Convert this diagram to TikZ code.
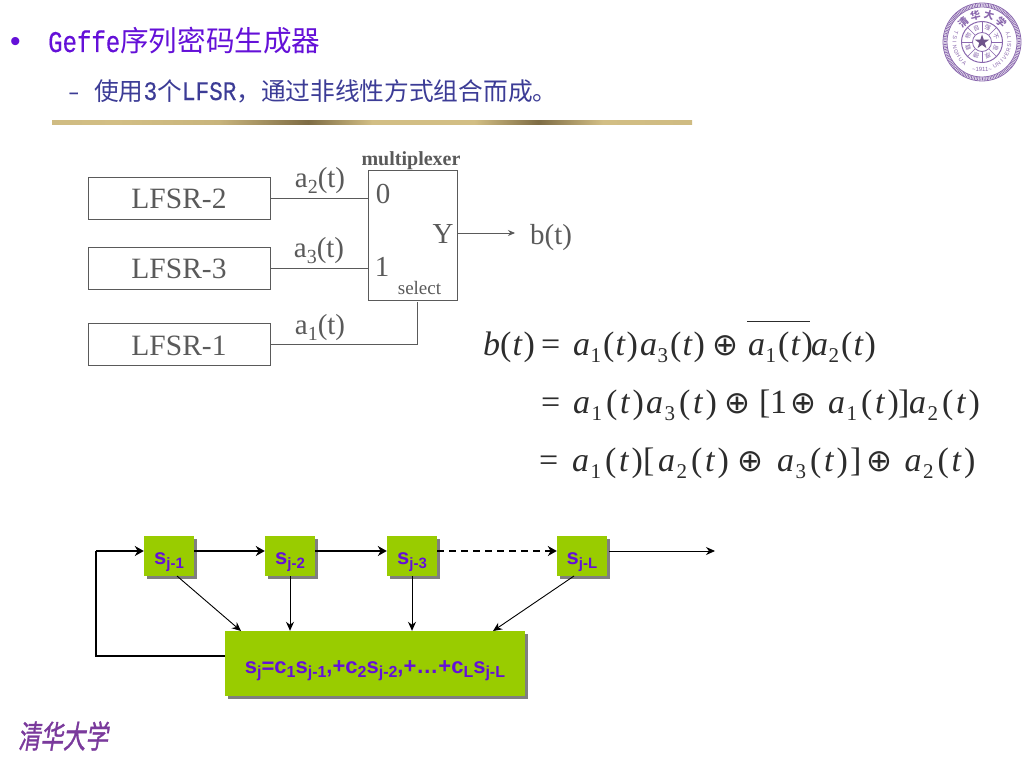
\documentclass[tikz,border=0pt]{standalone}
\usepackage{fontspec}
\usepackage{graphicx}
\setmainfont{Liberation Serif}
\setsansfont{Liberation Sans}
\newfontfamily\latnh[FakeStretch=0.8,FakeBold=0.4]{Liberation Mono}
\newfontfamily\latns[FakeStretch=0.85,FakeBold=0.4]{Liberation Mono}
\newfontfamily\cjk{Noto Sans CJK SC}
\newfontfamily\cjkslant[FakeSlant=0.22,FakeBold=1.2]{Noto Sans CJK SC}
\newfontfamily\djv{DejaVu Sans}
\usetikzlibrary{arrows.meta,shadows}
\definecolor{headc}{HTML}{6410D8}
\definecolor{subc}{HTML}{3C3C96}
\definecolor{gfill}{HTML}{99CC00}
\definecolor{gshadow}{HTML}{7F7F7F}
\definecolor{linec}{HTML}{5A5A5A}
\definecolor{sealc}{HTML}{8A68AE}
\definecolor{logoc}{HTML}{7A3A9C}
\definecolor{eqc}{HTML}{2C2C2C}
\definecolor{barA}{HTML}{9A9678}
\definecolor{barB}{HTML}{C8B47C}
\definecolor{barC}{HTML}{D2BE84}
\definecolor{barD}{HTML}{7E6C44}
\pgfdeclarehorizontalshading{goldbar}{100bp}{
 color(0bp)=(barA);
 color(5bp)=(barA);
 color(12bp)=(barB);
 color(30bp)=(barC);
 color(38bp)=(barB);
 color(45bp)=(barD);
 color(50bp)=(barC);
 color(58bp)=(barC);
 color(63bp)=(barD);
 color(68bp)=(barC);
 color(90bp)=(barB);
 color(100bp)=(barA)}
\newcommand{\fs}[1]{\fontsize{#1}{#1}\selectfont}
\newcommand{\lowtxt}[2]{\raisebox{#1}{#2}}
\newcommand{\dropped}[2]{\raisebox{#1}[0pt][0pt]{#2}}
\newcommand{\ssub}[1]{\lowtxt{-4.5pt}{\fs{15}#1}}
\newcommand{\bsub}[1]{\lowtxt{-4pt}{\fs{16}#1}}
\newcommand{\ait}[1]{\textit{a}\kern.5pt\lowtxt{-7pt}{\fs{21}#1}\kern2pt(\kern1pt\textit{t}\kern1pt)}
\newcommand{\aiw}[1]{\textit{a}\kern1.5pt\lowtxt{-7pt}{\fs{21}#1}\kern4pt(\kern2.5pt\textit{t}\kern2.5pt)}
\newcommand{\opl}{{\djv\fs{31}⊕}}
\tikzset{
  lfsrbox/.style={draw=linec,line width=.9pt,inner sep=0pt,font=\fs{29.5},text=linec},
  wire/.style={draw=linec,line width=.9pt},
  lbl/.style={inner sep=0pt,text=linec,font=\fs{29}},
  eqp/.style={inner sep=0pt,anchor=base west,text=eqc,font=\fs{34}},
  gbox/.style={fill=gfill,inner sep=0pt,text=headc,font=\sffamily\bfseries\fs{22},
     general shadow={fill=gshadow,shadow xshift=3pt,shadow yshift=-3pt}},
  flow/.style={draw=black,line width=1.7pt,-{Stealth[length=9pt,width=10pt]}},
  thin flow/.style={draw=black,line width=.9pt,-{Stealth[length=9pt,width=8pt]}},
  sealline/.style={draw=sealc,line width=.8pt},
  sealtxt/.style={inner sep=0pt,text=sealc}
}
\begin{document}
\begin{tikzpicture}[x=1pt,y=-1pt]
\useasboundingbox (0,0) rectangle (1024,768);
\fill[white] (0,0) rectangle (1024,768);

% headings
\node[anchor=base west,inner sep=0pt,text=headc,font=\sffamily\fs{30}] (bullet) at (10,52) {•};
\node[anchor=base west,inner sep=0pt,text=headc] (head) at (48,52) {{\latnh\fs{30}Geffe}{\cjk\fs{28.6}序列密码生成器}};
\node[anchor=base west,inner sep=0pt,text=subc,font=\latns\fs{22}] (dash) at (68,99) {–};
\node[anchor=base west,inner sep=0pt,text=subc] (subhead) at (94,100) {{\cjk\fs{24.7}使用}{\latns\fs{26.7}3}{\cjk\fs{24.7}个}{\latns\fs{26.7}LFSR}{\cjk\fs{24.7}，通过非线性方式组合而成。}};
\shade[shading=goldbar] (52,120) rectangle (692,124);

% LFSR boxes
\node[lfsrbox,minimum width=182pt,minimum height=42pt] (l2) at (179,198) {\dropped{-10pt}{LFSR-2}};
\node[lfsrbox,minimum width=182pt,minimum height=42pt] (l3) at (179,268) {\dropped{-10pt}{LFSR-3}};
\node[lfsrbox,minimum width=182pt,minimum height=42pt] (l1) at (179,344.5) {\dropped{-10.5pt}{LFSR-1}};
\node[draw=linec,line width=.9pt,inner sep=0pt,minimum width=89pt,minimum height=130pt] (mux) at (412.5,235) {};
\node[lbl,font=\bfseries\fs{20}] (muxname) at (411,161) {multiplexer};
\node[lbl] (in0) at (383,194) {0};
\node[lbl] (in1) at (382,267) {1};
\node[lbl] (outy) at (443,234) {Y};
\node[lbl,font=\fs{19}] (sel) at (419.5,288) {select};
\node[lbl,anchor=base west] (bt) at (530,244) {b(t)};
\node[lbl,anchor=base] (a2) at (320,187) {a\lowtxt{-6pt}{\fs{20}2}(t)};
\node[lbl,anchor=base] (a3) at (319,257) {a\lowtxt{-6pt}{\fs{20}3}(t)};
\node[lbl,anchor=base] (a1) at (320,334) {a\lowtxt{-6pt}{\fs{20}1}(t)};
\coordinate (yout) at (458,233);
\coordinate (yend) at (515,233);
\coordinate (selend) at (417,302);
\draw[wire] (l2.east) -- (l2.east -| mux.west);
\draw[wire] (l3.east) -- (l3.east -| mux.west);
\draw[wire] (l1.east) -- (l1.east -| selend) -- (selend);
\draw[wire,-{Stealth[length=7pt,width=6pt]}] (yout) -- (yend);

% equation line 1
\node[eqp] (e1b) at (483,355) {\textit{b}(\kern1pt\textit{t}\kern1pt)};
\node[eqp] (e1e) at (541,355) {=};
\node[eqp] (e1a) at (573,355) {\ait{1}};
\node[eqp] (e1c) at (640,355) {\ait{3}};
\node[eqp] (e1o) at (712,355) {\opl};
\node[eqp] (e1d) at (748,355) {\ait{1}};
\node[eqp] (e1f) at (811,355) {\ait{2}};
\coordinate (barl) at (747,321);
\coordinate (barr) at (810,321);
\draw[draw=eqc,line width=.9pt] (barl) -- (barr);
% equation line 2
\node[eqp] (e2e) at (541,413) {=};
\node[eqp] (e2a) at (573,413) {\aiw{1}};
\node[eqp] (e2c) at (646,413) {\aiw{3}};
\node[eqp] (e2o) at (724,413) {\opl};
\node[eqp] (e2l) at (759,413) {[};
\node[eqp] (e2n) at (770,413) {1};
\node[eqp] (e2p) at (790,413) {\opl};
\node[eqp] (e2d) at (828,413) {\aiw{1}};
\node[eqp] (e2r) at (898,413) {]};
\node[eqp] (e2f) at (909,413) {\aiw{2}};
% equation line 3
\node[eqp] (e3e) at (539,471) {=};
\node[eqp] (e3a) at (572,471) {\aiw{1}};
\node[eqp] (e3l) at (643,471) {[};
\node[eqp] (e3b) at (658,471) {\aiw{2}};
\node[eqp] (e3o) at (737.5,471) {\opl};
\node[eqp] (e3c) at (777,471) {\aiw{3}};
\node[eqp] (e3r) at (850,471) {]};
\node[eqp] (e3p) at (866,471) {\opl};
\node[eqp] (e3f) at (904.5,471) {\aiw{2}};

% shift register
\node[gbox,minimum width=50pt,minimum height=40pt] (s1) at (169,556) {\dropped{-8pt}{s\ssub{j-1}}};
\node[gbox,minimum width=50pt,minimum height=40pt] (s2) at (290,556) {\dropped{-8pt}{s\ssub{j-2}}};
\node[gbox,minimum width=50pt,minimum height=40pt] (s3) at (412,556) {\dropped{-8pt}{s\ssub{j-3}}};
\node[gbox,minimum width=50pt,minimum height=40pt] (s4) at (582,556) {\dropped{-8pt}{s\ssub{j-L}}};
\node[gbox,minimum width=300pt,minimum height=65pt,font=\sffamily\bfseries\fs{22}] (sum) at (375,663.5)
 {\dropped{-9.5pt}{s\bsub{j}=c\bsub{1}s\bsub{j-1},+c\bsub{2}s\bsub{j-2},+…+c\bsub{L}s\bsub{j-L}}};
\coordinate (outend) at (715,551);
\coordinate (outstart) at (609,551);
\coordinate (fb) at (96,656);
\coordinate (fbtop) at (96,551);
\draw[draw=black,line width=1.7pt] (sum.west |- fb) -- (fb) -- (fbtop);
\draw[flow] (fbtop) -- (fbtop -| s1.west);
\draw[flow] (s1.east |- fbtop) -- (s2.west |- fbtop);
\draw[flow] (s2.east |- fbtop) -- (s3.west |- fbtop);
\draw[flow,dash pattern=on 7pt off 5pt] (s3.east |- fbtop) -- (s4.west |- fbtop);
\draw[thin flow] (outstart) -- (outend);
\coordinate (t1) at (241,631);
\coordinate (t4) at (493,631);
\coordinate (f1) at (177,576);
\coordinate (f4) at (574,576);
\draw[thin flow] (f1) -- (t1);
\draw[thin flow] (s2.south) -- (s2.south |- sum.north);
\draw[thin flow] (s3.south) -- (s3.south |- sum.north);
\draw[thin flow] (f4) -- (t4);

% seal
\begin{scope}[shift={(982,42)},y=1pt]
  \draw[sealline] (0,0) circle (39pt);
  \draw[draw=sealc,line width=3pt,dash pattern=on .8pt off .8pt] (0,0) circle (37pt);
  \draw[sealline] (0,0) circle (35pt);
  \draw[sealline,line width=1pt] (0,0) circle (20.5pt);
  \draw[sealline] (0,0) circle (9.5pt);
  \foreach \a in {0,45,...,315} \draw[sealline,line width=.5pt] (\a:9.5pt) -- (\a:20.5pt);
  \foreach \ch [count=\i] in {清,华,大,学}{
    \pgfmathsetmacro{\ang}{133-(\i-1)*29}
    \node[sealtxt,font=\cjk\bfseries\fs{10},rotate=\ang-90] (st\i) at (\ang:27.5pt) {\ch};
  }
  \foreach \ch [count=\i] in {T,S,I,N,G,H,U,A}{
    \pgfmathsetmacro{\ang}{160+(\i-1)*10}
    \node[sealtxt,font=\sffamily\fs{5.5},rotate=\ang+90] (sl\i) at (\ang:27.5pt) {\ch};
  }
  \foreach \ch [count=\i] in {U,N,I,V,E,R,S,I,T,Y}{
    \pgfmathsetmacro{\ang}{-62+(\i-1)*9}
    \node[sealtxt,font=\sffamily\fs{5.5},rotate=\ang+90] (sr\i) at (\ang:27.5pt) {\ch};
  }
  \node[sealtxt,font=\sffamily\fs{6}] (syear) at (0,-27pt) {\textasciitilde1911\textasciitilde};
  \foreach \ch [count=\i] in {自,强,不,息,厚,德,载,物}{
    \pgfmathsetmacro{\ang}{112.5-(\i-1)*45}
    \node[sealtxt,font=\cjk\fs{6},rotate=\ang-90] (si\i) at (\ang:15pt) {\ch};
  }
  \fill[fill=sealc!80!black] (90:7.5pt) -- (126:2.9pt) -- (162:7.5pt) -- (198:2.9pt) -- (234:7.5pt) -- (270:2.9pt) -- (306:7.5pt) -- (342:2.9pt) -- (18:7.5pt) -- (54:2.9pt) -- cycle;
\end{scope}

% calligraphy logo
\node[anchor=center,inner sep=0pt,text=logoc,font=\cjkslant\fs{22.5}] (logo) at (63,736) {\scalebox{1}[1.4]{清华大学}};
\end{tikzpicture}
\end{document}
